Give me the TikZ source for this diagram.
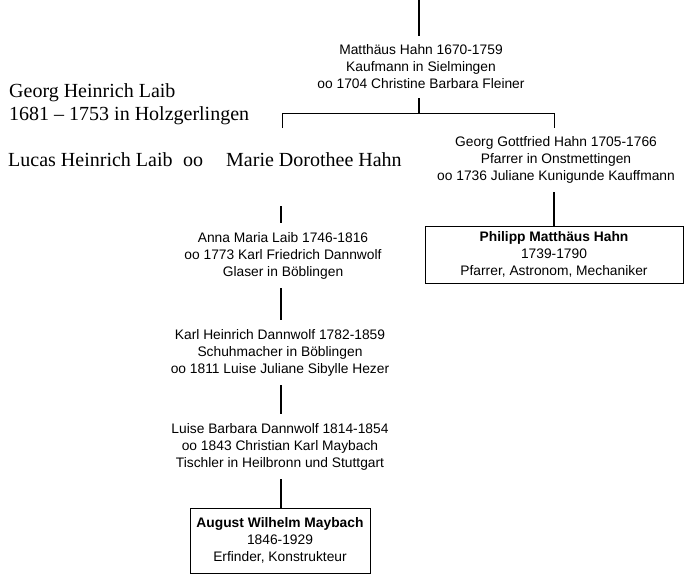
\documentclass[tikz,border=0pt]{standalone}
\usepackage{fontspec}
\setmainfont{Liberation Serif}
\newfontfamily\arialfont{Liberation Sans}
\begin{document}
\begin{tikzpicture}[x=1pt,y=-1pt,
  txt/.style={font=\arialfont\fontsize{13.8}{17}\selectfont, align=center, inner xsep=0pt, inner ysep=9pt},
  boxnode/.style={draw, line width=1pt, font=\arialfont\fontsize{13.8}{17}\selectfont, align=center, inner sep=0pt},
  lnk/.style={line width=1.4pt},
  hlnk/.style={line width=1pt},
  serif/.style={font=\fontsize{20}{24}\selectfont, inner sep=0pt, anchor=base west}]
\useasboundingbox (0,0) rectangle (690,574);

% text nodes
\node[txt] (mh) at (421,67) {Matthäus Hahn 1670-1759\\Kaufmann in Sielmingen\\oo 1704 Christine Barbara Fleiner};
\node[txt] (gg) at (556,159.5) {Georg Gottfried Hahn 1705-1766\\Pfarrer in Onstmettingen\\oo 1736 Juliane Kunigunde Kauffmann};
\node[boxnode, minimum width=258pt, minimum height=57pt] (ph) at (554,254.5) {\textbf{Philipp Matthäus Hahn}\\1739-1790\\Pfarrer, Astronom, Mechaniker};
\node[txt] (am) at (283,255.5) {Anna Maria Laib 1746-1816\\oo 1773 Karl Friedrich Dannwolf\\Glaser in Böblingen};
\node[txt] (kh) at (280,352.5) {Karl Heinrich Dannwolf 1782-1859\\Schuhmacher in Böblingen\\oo 1811 Luise Juliane Sibylle Hezer};
\node[txt] (lb) at (280,446.5) {Luise Barbara Dannwolf 1814-1854\\oo 1843 Christian Karl Maybach\\Tischler in Heilbronn und Stuttgart};
\node[boxnode, minimum width=180pt, minimum height=65pt] (aw) at (280,540.5) {\textbf{August Wilhelm Maybach}\\1846-1929\\Erfinder, Konstrukteur};

% serif texts
\node[serif] (gh) at (9,97) {Georg Heinrich Laib};
\node[serif] (gh2) at (9,120) {1681 -- 1753 in Holzgerlingen};
\node[serif] (lh) at (8,166) {Lucas Heinrich Laib};
\node[serif] (oo) at (183,166) {oo};
\node[serif] (md) at (226,166) {Marie Dorothee Hahn};

% connectors
\coordinate (top) at (419,0);
\coordinate (jl) at (282,113);
\coordinate (jr) at (554,113);
\coordinate (dl) at (282,128);
\coordinate (dr) at (554,128);
\coordinate (ml) at (281,206);
\draw[lnk] (top) -- (top |- mh.north);
\draw[lnk] (mh.south -| top) -- (jl -| top);
\draw[hlnk] (dl) -- (jl) -- (jr) -- (dr);
\draw[lnk] (gg.south -| ph.north) -- (ph.north);
\draw[lnk] (ml) -- (ml |- am.north);
\draw[lnk] (am.south -| ml) -- (kh.north -| ml);
\draw[lnk] (kh.south -| ml) -- (lb.north -| ml);
\draw[lnk] (lb.south -| ml) -- (aw.north -| ml);
\end{tikzpicture}
\end{document}
